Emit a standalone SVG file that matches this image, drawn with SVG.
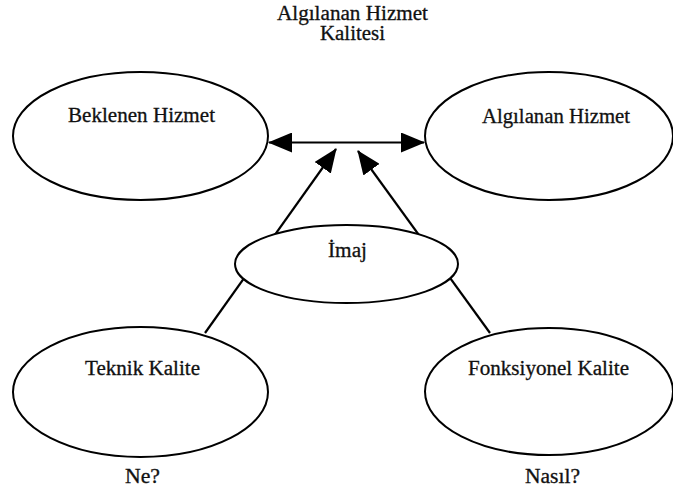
<svg xmlns="http://www.w3.org/2000/svg" width="673" height="494" viewBox="0 0 673 494">
  <style>
    .node ellipse { fill: #ffffff; stroke: #000000; stroke-width: 2; }
    .lbl { font-family: "Liberation Serif", "Times New Roman", serif; font-size: 20px; fill: #111111; stroke: #111111; stroke-width: 0.3; text-anchor: middle; }
    .conn line { stroke: #000000; stroke-width: 2.2; fill: none; }
  </style>
  <defs>
    <marker id="arr" markerUnits="userSpaceOnUse" markerWidth="24" markerHeight="20" refX="23" refY="10" orient="auto-start-reverse" viewBox="0 0 24 20">
      <path d="M0,0 L24,10 L0,20 Z" fill="#000000"/>
    </marker>
  </defs>
  <rect width="673" height="494" fill="#ffffff"/>

  <g id="title">
    <text class="lbl" x="352.5" y="20" textLength="151" lengthAdjust="spacingAndGlyphs">Algılanan Hizmet</text>
    <text class="lbl" x="352.5" y="40" textLength="65" lengthAdjust="spacingAndGlyphs">Kalitesi</text>
  </g>

  <g id="connectors" class="conn">
    <line x1="269" y1="142.5" x2="424" y2="142.5" marker-start="url(#arr)" marker-end="url(#arr)"/>
    <line x1="205" y1="333" x2="336" y2="149" marker-end="url(#arr)"/>
    <line x1="490" y1="333" x2="358" y2="151" marker-end="url(#arr)"/>
  </g>

  <g id="beklenen" class="node">
    <ellipse cx="140.5" cy="136" rx="127.5" ry="64"/>
    <text class="lbl" x="141.5" y="122" textLength="147" lengthAdjust="spacingAndGlyphs">Beklenen Hizmet</text>
  </g>

  <g id="algilanan" class="node">
    <ellipse cx="549" cy="136" rx="124" ry="64"/>
    <text class="lbl" x="556" y="123" textLength="148" lengthAdjust="spacingAndGlyphs">Algılanan Hizmet</text>
  </g>

  <g id="imaj" class="node">
    <ellipse cx="346.5" cy="264" rx="111.5" ry="39"/>
    <text class="lbl" x="347.5" y="257" textLength="39" lengthAdjust="spacingAndGlyphs">İmaj</text>
  </g>

  <g id="teknik" class="node">
    <ellipse cx="140.5" cy="392" rx="127.5" ry="65"/>
    <text class="lbl" x="142.5" y="375" textLength="115" lengthAdjust="spacingAndGlyphs">Teknik Kalite</text>
  </g>

  <g id="fonksiyonel" class="node">
    <ellipse cx="549" cy="391.5" rx="124" ry="63.5"/>
    <text class="lbl" x="548.5" y="375" textLength="161" lengthAdjust="spacingAndGlyphs">Fonksiyonel Kalite</text>
  </g>

  <g id="ne">
    <text class="lbl" x="142.5" y="483" textLength="35" lengthAdjust="spacingAndGlyphs">Ne?</text>
  </g>

  <g id="nasil">
    <text class="lbl" x="552.5" y="483" textLength="55" lengthAdjust="spacingAndGlyphs">Nasıl?</text>
  </g>
</svg>
